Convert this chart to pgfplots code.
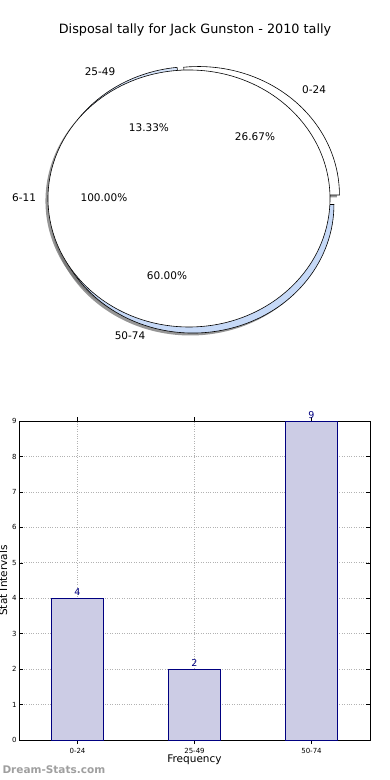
\documentclass[border=0pt]{standalone}
\usepackage{pgfplots}
\pgfplotsset{compat=1.18}
\usepackage{fontspec}
\setmainfont{DejaVu Sans}
\definecolor{barfill}{RGB}{204,204,229}
\definecolor{navy}{RGB}{0,0,128}
\definecolor{wedgeA}{RGB}{255,255,255}
\definecolor{wedgeB}{RGB}{214,228,250}
\definecolor{wedgeC}{RGB}{198,217,247}
\newcommand{\fs}[1]{\fontsize{#1bp}{#1bp}\selectfont}
% pie counts (0-24, 25-49, 50-74)
\def\vA{4}\def\vB{2}\def\vC{9}
\pgfmathsetmacro{\tot}{\vA+\vB+\vC}
\pgfmathsetmacro{\aA}{360*\vA/\tot}
\pgfmathsetmacro{\aB}{\aA+360*\vB/\tot}
\pgfmathsetmacro{\aC}{\aB+360*\vC/\tot}
\begin{document}
\begin{tikzpicture}
\path[use as bounding box] (0,0) rectangle (390bp,780bp);
\node[font=\fs{12.8}] at (195bp,750bp) {Disposal tally for Jack Gunston - 2010 tally};
% ---------- pie ----------
\begin{axis}[
  at={(189bp,581.5bp)}, anchor=center,
  scale only axis, width=366.6bp, height=334.1bp,
  xmin=-1.3, xmax=1.3, ymin=-1.3, ymax=1.3,
  hide axis, clip=false]
% shadows
\fill[black!55, opacity=0.75] (axis cs:-0.018,-0.019) ellipse [x radius=1, y radius=1];
\fill[black!55, opacity=0.75] (axis cs:0.049,0.008) -- (axis cs:{0.049+cos(\aA)},{0.008+sin(\aA)}) arc[start angle=\aA, end angle=0, x radius=1, y radius=1] -- cycle;
\fill[black!55, opacity=0.75] (axis cs:0.010,-0.066) -- (axis cs:{0.010+cos(\aB)},{-0.066+sin(\aB)}) arc[start angle=\aB, end angle=\aC, x radius=1, y radius=1] -- cycle;
% wedges
\filldraw[fill=wedgeA, draw=black, line width=0.6bp] (axis cs:0.067,0.027) -- (axis cs:{0.067+cos(0)},{0.027+sin(0)}) arc[start angle=0, end angle=\aA, x radius=1, y radius=1] -- cycle;
\filldraw[fill=wedgeB, draw=black, line width=0.6bp] (axis cs:0.020,0.026) -- (axis cs:{0.020+cos(\aA)},{0.026+sin(\aA)}) arc[start angle=\aA, end angle=\aB, x radius=1, y radius=1] -- cycle;
\filldraw[fill=wedgeC, draw=black, line width=0.6bp] (axis cs:0.028,-0.047) -- (axis cs:{0.028+cos(\aB)},{-0.047+sin(\aB)}) arc[start angle=\aB, end angle=\aC, x radius=1, y radius=1] -- cycle;
% 6-11 full wedge
\filldraw[fill=white, draw=black, line width=0.6bp] (axis cs:0,0) ellipse [x radius=1, y radius=1];
% labels
\node[font=\fs{10.5}] at (axis cs:-0.631,0.984) {25-49};
\node[font=\fs{10.5}] at (axis cs:0.887,0.844) {0-24};
\node[font=\fs{10.5}] at (axis cs:-1.170,0.004) {6-11};
\node[font=\fs{10.5}] at (axis cs:-0.418,-1.070) {50-74};
\node[font=\fs{10.5}] at (axis cs:-0.284,0.549) {13.33\%};
\node[font=\fs{10.5}] at (axis cs:0.468,0.479) {26.67\%};
\node[font=\fs{10.5}] at (axis cs:-0.603,0.004) {100.00\%};
\node[font=\fs{10.5}] at (axis cs:-0.156,-0.603) {60.00\%};
\end{axis}
% ---------- bars ----------
\begin{axis}[
  at={(19bp,40bp)}, anchor=south west,
  scale only axis, width=351bp, height=319bp,
  xmin=-0.5, xmax=2.5, ymin=0, ymax=9,
  xtick={0,1,2}, xticklabels={0-24,25-49,50-74},
  ytick={0,1,...,9},
  tick align=inside, tick pos=both,
  major tick length=4bp,
  tick style={black, line width=0.5bp},
  axis line style={black, line width=0.8bp},
  grid=major,
  major grid style={gray!60, dotted, line width=0.7bp},
  tick label style={font=\fs{7}},
  /pgf/number format/assume math mode=true,
  xticklabel style={yshift=-1bp},
  yticklabel style={xshift=1bp},
  xlabel={Frequency},
  every axis x label/.style={at={(axis description cs:0.5,0)}, anchor=center, yshift=-20bp, font=\fs{10.5}},
  ylabel={Stat Intervals},
  every axis y label/.style={at={(axis description cs:-0.045,0.5)}, anchor=center, rotate=90, font=\fs{10.5}},
  ybar, bar width=0.45,
  clip=false,
  nodes near coords,
  nodes near coords style={font=\fs{9.5}, text=navy, yshift=-1bp},
]
\addplot[fill=barfill, draw=navy, line width=0.7bp] coordinates {(0,4) (1,2) (2,9)};
\end{axis}
\node[anchor=west, font=\bfseries\fs{10.5}, text=gray!75] at (-1bp,10bp) {Dream-Stats.com};
\end{tikzpicture}
\end{document}
